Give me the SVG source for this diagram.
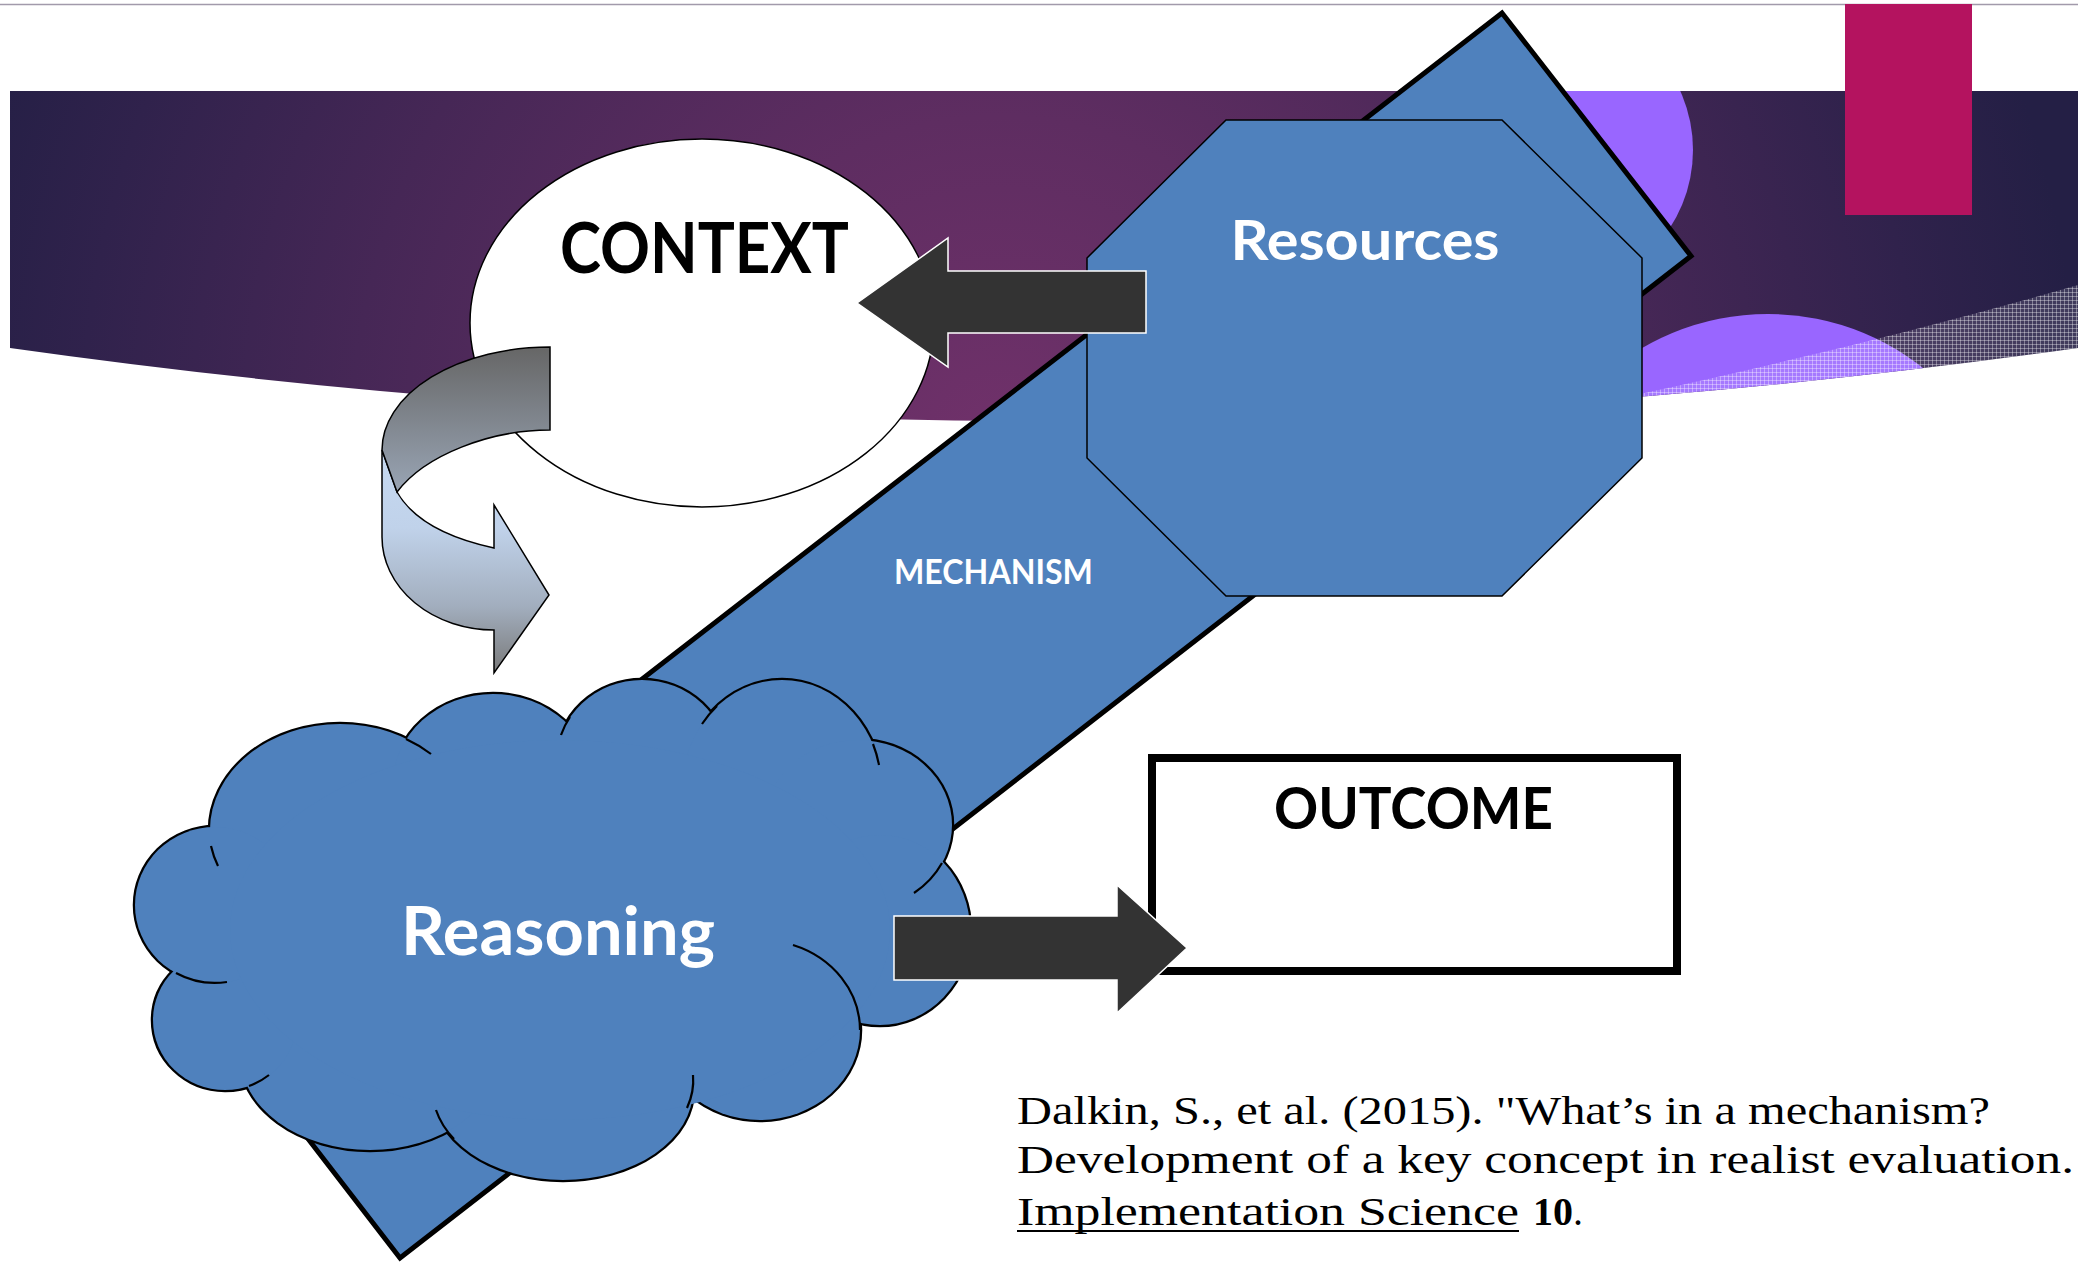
<svg xmlns="http://www.w3.org/2000/svg" width="2078" height="1263" viewBox="0 0 2078 1263">
<defs>
<style>
.lbl{font-family:Lato,"Open Sans","DejaVu Sans",sans-serif;font-weight:700;text-anchor:middle}
.w{fill:#ffffff}
.k{fill:#000000}
.shape{fill:#4f81bd;stroke:#000;stroke-width:1.5}
.arrow{fill:#333333;stroke:#ffffff;stroke-width:1.5}
.cite{font-family:"Liberation Serif","Times New Roman",serif;font-size:40px;fill:#000}
.cl{fill:#4f81bd;stroke:#000;stroke-width:4.5}
.cf{fill:#4f81bd}
.ci{fill:none;stroke:#000;stroke-width:2.2}
</style>
<radialGradient id="bandG" gradientUnits="userSpaceOnUse" cx="1000" cy="440" r="1080">
<stop offset="0" stop-color="#70316a"/>
<stop offset="0.3" stop-color="#5e2d61"/>
<stop offset="0.6" stop-color="#462756"/>
<stop offset="0.85" stop-color="#30224c"/>
<stop offset="1" stop-color="#241f45"/>
</radialGradient>
<clipPath id="bandClip"><path d="M10 91 L2078 91 L2078 348 Q1044 494 10 348 Z"/></clipPath>
<pattern id="dots" width="4" height="4" patternUnits="userSpaceOnUse">
<rect width="4" height="4" fill="#ffffff" fill-opacity="0.12"/>
<rect width="4" height="1" fill="#ffffff" fill-opacity="0.35"/>
<rect width="1" height="4" fill="#ffffff" fill-opacity="0.35"/>
</pattern>
<linearGradient id="cgTop" gradientUnits="userSpaceOnUse" x1="0" y1="347" x2="0" y2="495">
<stop offset="0" stop-color="#666666"/>
<stop offset="1" stop-color="#9aa6b6"/>
</linearGradient>
<linearGradient id="cgBot" gradientUnits="userSpaceOnUse" x1="0" y1="450" x2="0" y2="673">
<stop offset="0" stop-color="#c6d9f1"/>
<stop offset="0.35" stop-color="#c0d2ea"/>
<stop offset="0.7" stop-color="#a2aebe"/>
<stop offset="1" stop-color="#7a7a7a"/>
</linearGradient>
</defs>

<g id="background">
<line x1="0" y1="4.5" x2="2078" y2="4.5" stroke="#a29aab" stroke-width="1.5"/>
<path d="M10 91 L2078 91 L2078 348 Q1044 494 10 348 Z" fill="url(#bandG)"/>
<g clip-path="url(#bandClip)">
<circle cx="1550" cy="150" r="143" fill="#9966ff"/>
<circle cx="1768" cy="564" r="250" fill="#9966ff"/>
<path d="M1540 425 L1640 394 Q1880 342 2078 285 L2078 430 Z" fill="url(#dots)"/>
</g>
<rect x="1845" y="4" width="127" height="211" fill="#b4135f"/>
</g>

<g id="context">
<ellipse cx="702" cy="323" rx="232" ry="184" fill="#ffffff" stroke="#000" stroke-width="1.5"/>
<text class="lbl k" x="704.5" y="273" font-size="70" textLength="289" lengthAdjust="spacingAndGlyphs">CONTEXT</text>
</g>

<g id="mechanism">
<polygon points="1502,13 1691,256 400,1258 211,1013" fill="#4f81bd" stroke="#000" stroke-width="5"/>
<text class="lbl w" x="993.5" y="584" font-size="33.5" textLength="199" lengthAdjust="spacingAndGlyphs">MECHANISM</text>
</g>

<g id="resources">
<polygon class="shape" points="1226,120 1502,120 1642,258 1642,458 1502,596 1226,596 1087,458 1087,258"/>
<text class="lbl w" x="1365" y="260" font-size="56" textLength="269" lengthAdjust="spacingAndGlyphs">Resources</text>
</g>

<g id="reasoning">
<g>
<ellipse class="cl" cx="340" cy="830" rx="130" ry="106"/>
<ellipse class="cl" cx="493" cy="784" rx="100" ry="90"/>
<ellipse class="cl" cx="642" cy="760" rx="85" ry="80"/>
<ellipse class="cl" cx="782" cy="790" rx="100" ry="110"/>
<ellipse class="cl" cx="858" cy="825" rx="94" ry="85"/>
<ellipse class="cl" cx="880" cy="930" rx="90" ry="95"/>
<ellipse class="cl" cx="760" cy="1030" rx="100" ry="90"/>
<ellipse class="cl" cx="563" cy="1090" rx="130" ry="90"/>
<ellipse class="cl" cx="370" cy="1055" rx="130" ry="95"/>
<ellipse class="cl" cx="225" cy="1020" rx="72" ry="70"/>
<ellipse class="cl" cx="215" cy="905" rx="80" ry="78"/>
</g>
<g>
<ellipse class="cf" cx="340" cy="830" rx="130" ry="106"/>
<ellipse class="cf" cx="493" cy="784" rx="100" ry="90"/>
<ellipse class="cf" cx="642" cy="760" rx="85" ry="80"/>
<ellipse class="cf" cx="782" cy="790" rx="100" ry="110"/>
<ellipse class="cf" cx="858" cy="825" rx="94" ry="85"/>
<ellipse class="cf" cx="880" cy="930" rx="90" ry="95"/>
<ellipse class="cf" cx="760" cy="1030" rx="100" ry="90"/>
<ellipse class="cf" cx="563" cy="1090" rx="130" ry="90"/>
<ellipse class="cf" cx="370" cy="1055" rx="130" ry="95"/>
<ellipse class="cf" cx="225" cy="1020" rx="72" ry="70"/>
<ellipse class="cf" cx="215" cy="905" rx="80" ry="78"/>
<ellipse class="cf" cx="560" cy="930" rx="330" ry="190"/>
</g>
<g>
<path class="ci" d="M211 846 A130 106 0 0 0 218 866"/>
<path class="ci" d="M176 973 A80 78 0 0 0 227 982"/>
<path class="ci" d="M249 1086 A72 70 0 0 0 269 1075"/>
<path class="ci" d="M436 1110 A130 90 0 0 0 454 1139"/>
<path class="ci" d="M687 1108 A130 90 0 0 0 693 1075"/>
<path class="ci" d="M793 945 A100 90 0 0 1 860 1030"/>
<path class="ci" d="M914 893 A94 85 0 0 0 942 863"/>
<path class="ci" d="M873 744 A100 110 0 0 1 879 765"/>
<path class="ci" d="M717 706 A100 110 0 0 0 702 724"/>
<path class="ci" d="M570 717 A85 80 0 0 0 561 735"/>
<path class="ci" d="M406 739 A130 106 0 0 1 431 754"/>
</g>
<text class="lbl w" x="558" y="955" font-size="67" textLength="314" lengthAdjust="spacingAndGlyphs">Reasoning</text>
</g>

<g id="outcome">
<rect x="1152" y="758" width="525" height="213" fill="#ffffff" stroke="#000" stroke-width="8"/>
<text class="lbl k" x="1413.5" y="829" font-size="57" textLength="279" lengthAdjust="spacingAndGlyphs">OUTCOME</text>
</g>

<g id="connectors">
<g id="loop-arrow" stroke="#000" stroke-width="1.5" stroke-linejoin="miter">
<path d="M382 450 L382 537 A112 93 0 0 0 494 630 L494 673 L549 595 L494 505 L494 548 Q420 532 397 492 Z" fill="url(#cgBot)"/>
<path d="M550 347 A168 103 0 0 0 382 450 L397 492 C425 455 490 430 550 430 Z" fill="url(#cgTop)"/>
</g>
<path id="resources-to-context" class="arrow" d="M1146 271 L948 271 L948 238 L857 303 L948 367 L948 333 L1146 333 Z"/>
<path id="reasoning-to-outcome" class="arrow" d="M894 916 L1117 916 L1117 885 L1187 948 L1117 1013 L1117 980 L894 980 Z"/>
</g>

<g id="citation">
<text class="cite" x="1017" y="1124" textLength="973" lengthAdjust="spacingAndGlyphs">Dalkin, S., et al. (2015). "What’s in a mechanism?</text>
<text class="cite" x="1017" y="1173" textLength="1057" lengthAdjust="spacingAndGlyphs">Development of a key concept in realist evaluation.</text>
<text class="cite" x="1017" y="1225" textLength="502" lengthAdjust="spacingAndGlyphs">Implementation Science</text>
<line x1="1017" y1="1231" x2="1519" y2="1231" stroke="#000" stroke-width="2"/>
<text class="cite" x="1533" y="1225"><tspan font-weight="700">10</tspan>.</text>
</g>
</svg>
